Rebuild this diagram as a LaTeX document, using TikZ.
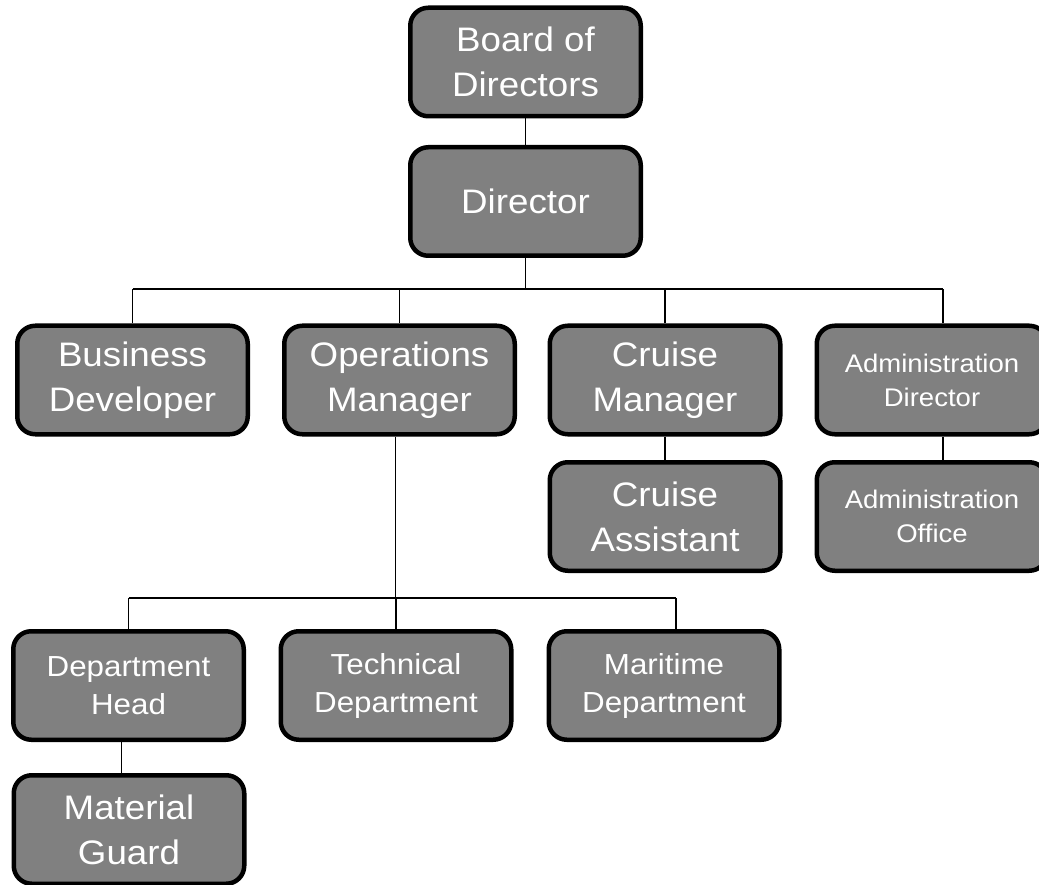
\documentclass[tikz,border=0pt]{standalone}
\usepackage{fontspec}
\setmainfont[FakeStretch=1.08]{Liberation Sans}
\definecolor{boxgray}{RGB}{128,128,128}
\tikzset{
  post/.style={draw=black, line width=4.5pt, rounded corners=18pt, fill=boxgray,
    text=white, align=center, minimum width=230.5pt, minimum height=108.5pt,
    inner sep=0pt, font=\fontsize{34}{45}\selectfont},
  smalltext/.style={font=\fontsize{25.5}{34}\selectfont},
  midtext/.style={font=\fontsize{29}{38}\selectfont},
  link/.style={line width=1.5pt}
}
\begin{document}
\begin{tikzpicture}[x=1pt,y=-1pt]
  \useasboundingbox (0,0) rectangle (1039,885);
  % top
  \node[post] (board) at (525.5,62) {Board of\\Directors};
  \node[post] (dir) at (525.5,201.5) {Director};
  % second row
  \node[post] (bizdev) at (132.5,380) {Business\\Developer};
  \node[post] (ops) at (399.5,380) {Operations\\Manager};
  \node[post] (cruise) at (665,380) {Cruise\\Manager};
  \node[post,smalltext] (admdir) at (932,380) {Administration\\Director};
  \node[post] (cruiseass) at (665,516.5) {Cruise\\Assistant};
  \node[post,smalltext] (admoff) at (932,516.5) {Administration\\Office};
  % operations
  \node[post,midtext] (dephead) at (128.5,685.5) {Department\\Head};
  \node[post,midtext] (tech) at (396,685.5) {Technical\\Department};
  \node[post,midtext] (mar) at (664,685.5) {Maritime\\Department};
  \node[post] (guard) at (129,829.5) {Material\\Guard};

  \coordinate (topbar) at (0,289);
  \coordinate (lowbar) at (0,598);
  \coordinate (admx) at ([xshift=11pt]admdir.north);
  \coordinate (opsx) at ([xshift=-4pt]ops.south);
  \coordinate (marx) at ([xshift=12pt]mar.north);
  \coordinate (headx) at ([xshift=-7pt]dephead.south);

  \draw[link] (board.south) -- (dir.north);
  \draw[link] (dir.south) -- (dir.south |- topbar);
  \draw[link] (bizdev.north |- topbar) -- (admx |- topbar);
  \foreach \n in {bizdev,ops,cruise}
    \draw[link] (\n.north) -- (\n.north |- topbar);
  \draw[link] (admx) -- (admx |- topbar);
  \draw[link] (cruise.south) -- (cruiseass.north);
  \draw[link] (admx |- admdir.south) -- (admx |- admoff.north);

  \draw[link] (opsx) -- (opsx |- lowbar);
  \draw[link] (dephead.north |- lowbar) -- (marx |- lowbar);
  \foreach \n in {dephead,tech}
    \draw[link] (\n.north) -- (\n.north |- lowbar);
  \draw[link] (marx) -- (marx |- lowbar);
  \draw[link] (headx) -- (headx |- guard.north);
\end{tikzpicture}
\end{document}
